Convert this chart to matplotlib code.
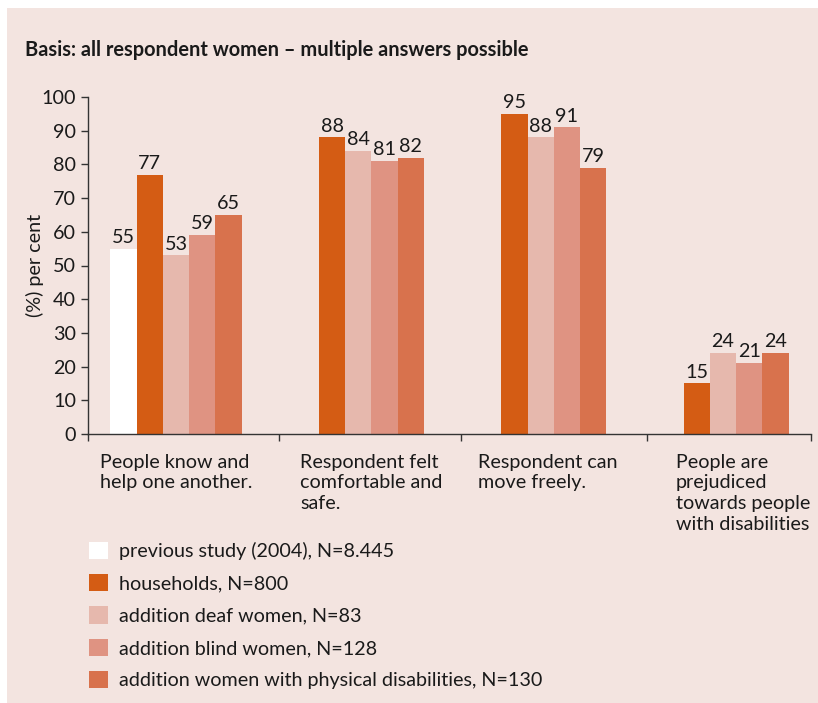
import matplotlib.pyplot as plt
from matplotlib.patches import Rectangle
import numpy as np

# -- data -----
categories = ['People know and\nhelp one another.',
              'Respondent felt\ncomfortable and\nsafe.',
              'Respondent can\nmove freely.',
              'People are\nprejudiced\ntowards people\nwith disabilities']
series = ['previous study (2004), N=8.445',
          'households, N=800',
          'addition deaf women, N=83',
          'addition blind women, N=128',
          'addition women with physical disabilities, N=130']
previous = [55, None, None, None]
households = [77, 88, 95, 15]
deaf = [53, 84, 88, 24]
blind = [59, 81, 91, 21]
physical = [65, 82, 79, 24]

colors = ['#FFFFFF', '#D45C14', '#E6B8AD', '#DF9382', '#D8724D']
BG = '#F3E4E0'
TXT = '#1A1A1A'
FS = 14.2

plt.rcParams['font.family'] = ['Lato', 'DejaVu Sans']
plt.rcParams['font.size'] = FS

fig = plt.figure(figsize=(8.18, 7.03), dpi=100, facecolor='white')
fig.patches.append(Rectangle((7 / 818, 0), 1, 1 - 8 / 703, transform=fig.transFigure,
                             facecolor=BG, edgecolor='none', zorder=-10))

ax = fig.add_axes([88 / 818, 1 - 434 / 703, (811 - 88) / 818, (434 - 97) / 703])
ax.set_facecolor('none')

x = np.arange(len(categories))
width = 0.144
all_series = [previous, households, deaf, blind, physical]

handles = []
for j, (vals, col, lab) in enumerate(zip(all_series, colors, series)):
    xs = [xi + (j - 2) * width for xi, v in zip(x, vals) if v is not None]
    vs = [v for v in vals if v is not None]
    bars = ax.bar(xs, vs, width, color=col, label=lab, linewidth=0)
    handles.append(bars)
    for xi, v in zip(xs, vs):
        ax.annotate(str(v), (xi, v), xytext=(0, 2), textcoords='offset points',
                    ha='center', va='bottom', color=TXT, fontsize=FS, clip_on=False)

ax.set_xlim(-0.483, 3.483)
ax.set_ylim(0, 100)
ax.set_yticks(range(0, 101, 10))
ax.set_ylabel('(%) per cent', color=TXT, labelpad=-2, fontsize=FS)

# category boundaries as ticks, labels placed as text
bounds = [-0.483, 0.565, 1.563, 2.584, 3.483]
ax.set_xticks(bounds)
ax.set_xticklabels([])
label_x = [-0.417, 0.68, 1.657, 2.743]
for lx, cat in zip(label_x, categories):
    ax.text(lx, -5.8, cat, ha='left', va='top', color=TXT, fontsize=FS,
            linespacing=1.27)

for s in ['top', 'right']:
    ax.spines[s].set_visible(False)
for s in ['left', 'bottom']:
    ax.spines[s].set_color('#333333')
    ax.spines[s].set_linewidth(1.0)
ax.tick_params(colors='#333333', labelcolor=TXT, length=5, width=1.0, labelsize=FS)

fig.text(25 / 818, 1 - 50 / 703, 'Basis: all respondent women \u2013 multiple answers possible',
         ha='left', va='center', fontsize=FS + 0.2, fontweight='bold', color=TXT)

fig.legend(handles=handles, loc='upper left', bbox_to_anchor=(89 / 818, 1 - 542 / 703),
           frameon=False, borderpad=0, borderaxespad=0, handlelength=0.97, handleheight=0.97,
           handletextpad=0.55, labelspacing=0.7, fontsize=FS, labelcolor=TXT)

plt.savefig('out.png', dpi=100, facecolor=fig.get_facecolor())
